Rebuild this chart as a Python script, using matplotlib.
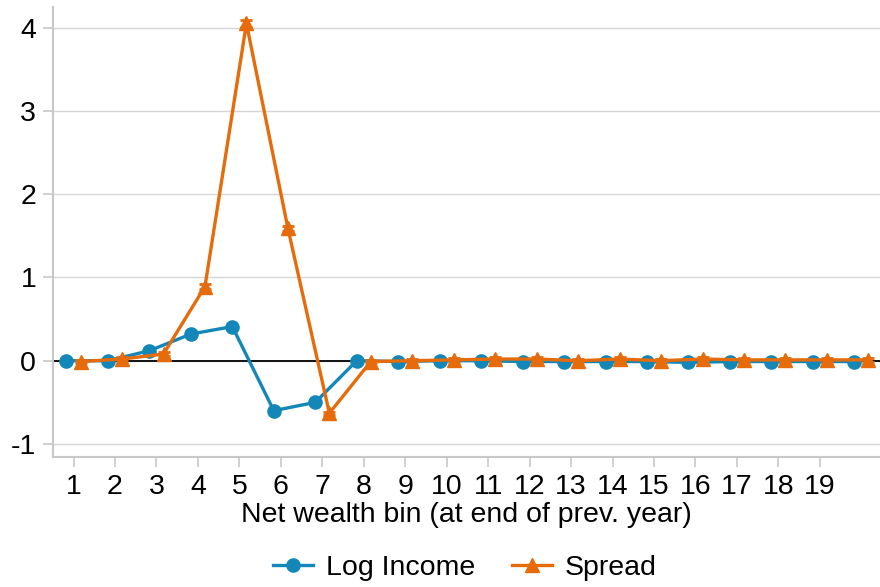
import matplotlib
matplotlib.use("Agg")
import matplotlib.pyplot as plt
from matplotlib.lines import Line2D
import numpy as np

plt.rcParams['font.family'] = ['Liberation Sans', 'DejaVu Sans']

bins = list(range(1, 21))
tick_labels = [str(i) for i in range(1, 20)]
log_income = [0.0, 0.0, 0.12, 0.32, 0.41, -0.60, -0.50, 0.0, -0.01, 0.0,
              0.0, -0.01, -0.01, -0.01, -0.01, -0.02, -0.01, -0.01, -0.01, -0.01]
spread = [-0.01, 0.02, 0.08, 0.89, 4.05, 1.59, -0.63, -0.01, 0.0, 0.01,
          0.02, 0.02, 0.0, 0.02, 0.0, 0.02, 0.01, 0.01, 0.01, 0.01]
spread_err = [0.02, 0.02, 0.02, 0.03, 0.04, 0.03, 0.02, 0.02, 0.02, 0.02,
              0.02, 0.02, 0.02, 0.02, 0.02, 0.02, 0.02, 0.02, 0.02, 0.02]

blue = '#1487b9'
orange = '#e56b0b'
grey = '#c8c8c8'
fs = 20.5

fig = plt.figure(figsize=(8.8, 5.87), dpi=100)
ax = fig.add_axes([0.060, 0.2215, 0.94, 0.767])

x = np.array(bins, dtype=float)
offset = 0.17

ax.axhline(0, color='black', lw=1.3, zorder=2)
ax.plot(x - offset, log_income, color=blue, lw=2.4, marker='o', ms=9.5,
        zorder=3)
ax.errorbar(x + offset, spread, yerr=spread_err, color=orange, lw=2.4,
            marker='^', ms=9.5, capsize=4, elinewidth=2, capthick=2, zorder=4)

ax.set_xlim(0.5, 20.45)
ax.set_ylim(-1.156, 4.25)
ax.set_yticks([-1, 0, 1, 2, 3, 4])
ax.set_yticklabels(['-1', '0', '1', '2', '3', '4'])
ax.set_xticks(range(1, 20))
ax.set_xticklabels(tick_labels)
ax.grid(axis='y', color='#d6d6d6', lw=1.0, zorder=0)
ax.set_axisbelow(True)

for side in ('top', 'right'):
    ax.spines[side].set_visible(False)
for side in ('left', 'bottom'):
    ax.spines[side].set_color(grey)
    ax.spines[side].set_linewidth(1.5)

ax.tick_params(axis='both', colors=grey, labelcolor='black', labelsize=fs,
               length=7, width=1.2, direction='out')
ax.tick_params(axis='x', pad=5)
ax.tick_params(axis='y', pad=5)

ax.set_xlabel('Net wealth bin (at end of prev. year)', fontsize=fs, labelpad=2)

handles = [
    Line2D([], [], color=blue, lw=2.4, marker='o', ms=9.5),
    Line2D([], [], color=orange, lw=2.4, marker='^', ms=9.5),
]
fig.legend(handles, ['Log Income', 'Spread'], loc='center',
           bbox_to_anchor=(0.528, 0.033), ncol=2, frameon=False, fontsize=fs,
           handlelength=1.4, columnspacing=1.3, handletextpad=0.45)

fig.savefig('out.png', dpi=100)
